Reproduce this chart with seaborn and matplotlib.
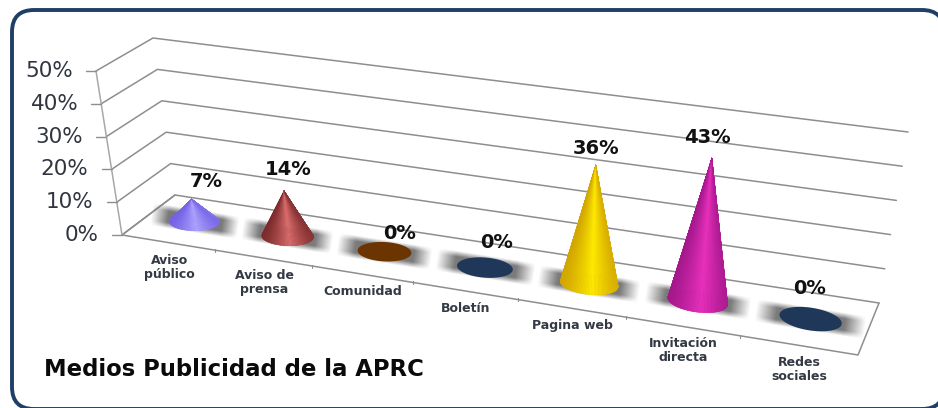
import numpy as np
import pandas as pd
import matplotlib
matplotlib.use("Agg")
import matplotlib.pyplot as plt
from matplotlib.collections import PolyCollection
from matplotlib.colors import to_rgb
from matplotlib.patches import FancyBboxPatch
from matplotlib.transforms import Affine2D
import seaborn as sns

# datos
categorias = ["Aviso\npúblico", "Aviso de\nprensa", "Comunidad", "Boletín",
              "Pagina web", "Invitación\ndirecta", "Redes\nsociales"]
valores = [7, 14, 0, 0, 36, 43, 0]
ticks_y = [0, 10, 20, 30, 40, 50]
titulo = "Medios Publicidad de la APRC"

# colores de cada cono: (borde oscuro, brillo)
colores = [("#7563E6", "#AFA4FF"), ("#7C2B2C", "#DB6E6E"), ("#6B3400", "#6B3400"),
           ("#1F3859", "#1F3859"), ("#D2A600", "#FFEA00"), ("#A5188C", "#E830BC"),
           ("#1F3859", "#1F3859")]
# desplazamiento de cada etiqueta respecto a la punta del cono (px)
offset_etiquetas = [(15, -18), (4, -22), (15, -18), (12, -25), (0, -17), (-5, -21), (-1, -31)]

NAVY = "#1F3F66"
GRIS = "#8E8E8E"

sns.set_theme(style="white")
plt.rcParams["font.family"] = ["DejaVu Sans"]

# ===============================
# Proyección del suelo 3D a pixeles
# ===============================
esquinas = {(0, 0): (122, 235), (1, 0): (858, 355), (0, 1): (175, 195), (1, 1): (879, 303)}
filas, lado = [], []
for (u, v), (px, py) in esquinas.items():
    filas.append([u, v, 1, 0, 0, 0, -u * px, -v * px])
    filas.append([0, 0, 0, u, v, 1, -u * py, -v * py])
    lado += [px, py]
h = np.linalg.solve(np.array(filas, float), np.array(lado, float))
H = np.append(h, 1).reshape(3, 3)

# vector vertical para 50 % en cada esquina
alto_lf, alto_lb = np.array([-26, -164.]), np.array([-22, -157.])
alto_rf, alto_rb = np.array([26, -165.]), np.array([29, -171.])
MAX_Y = 50.0
N = len(categorias)


def proyecta(c, d, val=0.0):
    t = c / N
    p = H @ np.array([t, d, 1.0])
    base = p[:2] / p[2]
    alto = (1 - t) * ((1 - d) * alto_lf + d * alto_lb) + t * ((1 - d) * alto_rf + d * alto_rb)
    return base + alto * val / MAX_Y


fig = plt.figure(figsize=(9.38, 4.08), dpi=100)
ax = fig.add_axes([0, 0, 1, 1])

# marco redondeado
ax.add_patch(FancyBboxPatch((12, 10), 932, 399, boxstyle="round,pad=0,rounding_size=22",
                            fc="white", ec=NAVY, lw=2.8, zorder=0))

# ===============================
# Paredes y suelo
# ===============================
lineas = []
for i, val in enumerate(ticks_y):
    for n, (c, d) in enumerate([(0, 0), (0, 1), (N, 1)]):
        x, y = proyecta(c, d, val)
        lineas.append({"linea": i, "orden": n, "x": x, "y": y})
sns.lineplot(data=pd.DataFrame(lineas), x="x", y="y", units="linea", estimator=None,
             sort=False, color=GRIS, lw=1.1, ax=ax, zorder=1)

borde = [proyecta(0, 1), proyecta(0, 0), proyecta(N, 0), proyecta(N, 1)]
ax.plot(*np.array(borde).T, color=GRIS, lw=1.1, zorder=1)
ax.plot(*np.array([proyecta(0, 0), proyecta(0, 0, MAX_Y)]).T, color="#A8A8A8", lw=1.1, zorder=1)

for val in ticks_y:
    x, y = proyecta(0, 0, val)
    ax.plot([x - 10, x], [y, y], color=GRIS, lw=1.0, zorder=1)
    ax.text(x - 23, y, f"{val}%", ha="right", va="center", fontsize=15.5, color="#303540")

for c in range(1, N):
    x, y = proyecta(c, 0)
    ax.plot([x, x], [y - 1, y + 2], color=GRIS, lw=0.8, zorder=1)

# ===============================
# Sombras y conos
# ===============================
for i, val in enumerate(valores):
    centro = proyecta(i + 0.5, 0.5)
    izq, der = proyecta(i + 0.5 - 0.27, 0.5), proyecta(i + 0.5 + 0.27, 0.5)
    eje = (der - izq) / 0.54
    largo = np.hypot(*eje) * 0.48
    giro = np.arctan2(eje[1], eje[0])

    # banda difusa sobre el suelo
    uu, vv = np.meshgrid(np.linspace(-1, 1, 60), np.linspace(-1, 1, 24))
    fu = np.clip((1 - np.abs(uu)) / 0.38, 0, 1)
    fv = np.clip((1 - np.abs(vv)) / 0.5, 0, 1)
    rgba = np.zeros(uu.shape + (4,))
    rgba[..., :3] = 0.42
    rgba[..., 3] = 0.9 * fu * fv
    banda = ax.imshow(rgba, extent=[centro[0] - largo, centro[0] + largo, centro[1] + 12, centro[1] - 12],
                      aspect="auto", interpolation="bilinear", zorder=2)
    banda.set_transform(Affine2D().rotate_around(centro[0], centro[1], giro) + ax.transData)

    a = np.hypot(*(der - izq)) / 2
    b = a * 0.36
    ang = giro * i / (N - 1)
    th = np.linspace(np.pi, -np.pi, 121)
    ex = centro[0] + a * np.cos(th) * np.cos(ang) - b * np.sin(th) * np.sin(ang)
    ey = centro[1] + a * np.cos(th) * np.sin(ang) + b * np.sin(th) * np.cos(ang)

    oscuro, claro = map(np.array, map(to_rgb, colores[i]))
    ax.fill(ex, ey, color=oscuro, lw=0, zorder=3)
    punta = proyecta(i + 0.5, 0.5, val)
    if val > 0:
        # abanico de triangulos: primero el arco de atras
        trozos = [[punta, (ex[k], ey[k]), (ex[k + 1], ey[k + 1])] for k in range(len(th) - 1)]
        medio = [(ex[k] + ex[k + 1]) / 2 for k in range(len(th) - 1)]
        pos = (np.array(medio) - (centro[0] - a)) / (2 * a)
        mezcla = np.clip(1 - np.abs(pos - 0.55) / 0.55, 0, 1) ** 1.2
        cols = [oscuro + (claro - oscuro) * m for m in mezcla]
        orden = sorted(range(len(trozos)), key=lambda k: np.sin(th[k]) > 0)
        ax.add_collection(PolyCollection([trozos[k] for k in orden],
                                         facecolors=[cols[k] for k in orden],
                                         edgecolors=[cols[k] for k in orden],
                                         linewidths=0.3, zorder=4))

    dx, dy = offset_etiquetas[i]
    ax.text(punta[0] + dx, punta[1] + dy, f"{val}%", ha="center", va="center",
            fontsize=14, fontweight="bold", color="#111111", zorder=5)

    # nombre de la categoria bajo el borde frontal
    x, y = proyecta(i + 0.5, 0)
    ax.text(x + 1, y + 11, categorias[i], ha="center", va="top", fontsize=9,
            fontweight="bold", color="#333A44", linespacing=1.1, zorder=5)

ax.text(44, 370, titulo, ha="left", va="center", fontsize=16.4, fontweight="bold", color="#0A0A0A")

ax.set_xlim(0, 938)
ax.set_ylim(408, 0)
ax.axis("off")
fig.savefig("out.png", dpi=100)
